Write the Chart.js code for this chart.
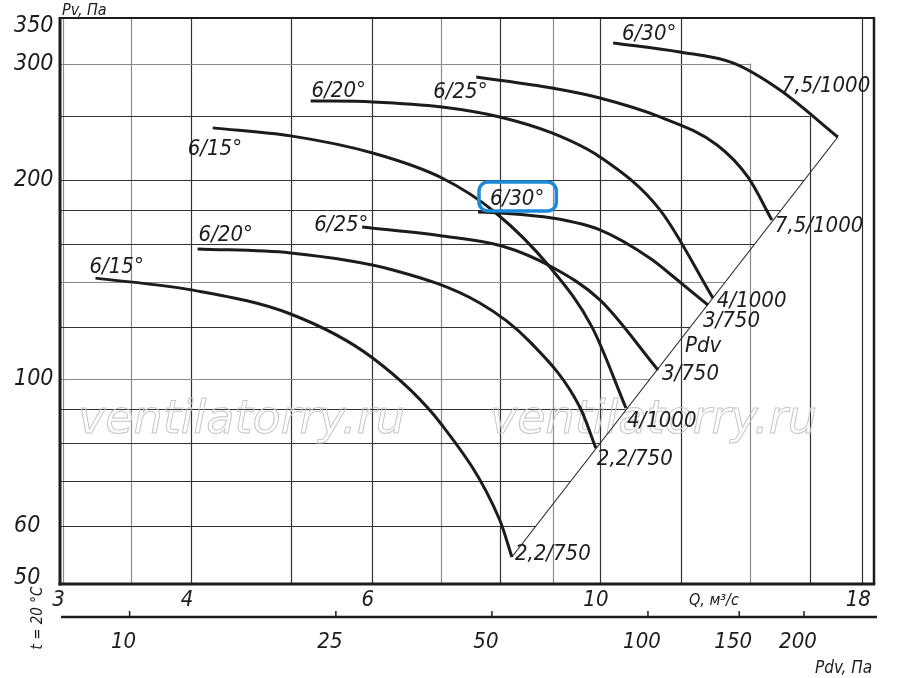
<!DOCTYPE html>
<html><head><meta charset="utf-8">
<script src="https://cdn.jsdelivr.net/npm/chart.js@4.4.1/dist/chart.umd.min.js"></script>
<style>html,body{margin:0;padding:0;background:#fff;overflow:hidden}canvas{display:block}</style>
</head><body>
<canvas id="c" width="900" height="678"></canvas>
<script>
// ---------------- data ----------------
const qGrid = [3, 3.5, 4, 5, 6, 7, 8, 9, 10, 12, 14, 16, 18];
const qTickLabels = [3, 4, 6, 10, 18];
const pGrid = [60, 70, 80, 90, 100, 120, 140, 160, 180, 200, 250, 300];
const pTickLabels = [350, 300, 200, 100, 60, 50];
const pdvTickValues = [10, 25, 50, 100, 150, 200];

const bladeAngles = ["6/15°", "6/20°", "6/25°", "6/30°", "6/15°", "6/20°", "6/25°", "6/30°"];
const motorLabels = ["2,2/750", "2,2/750", "3/750", "3/750", "4/1000", "4/1000", "7,5/1000", "7,5/1000"];

const q1 = [3.23, 4.00, 5.00, 6.01, 7.02, 7.99, 8.21];
const p1 = [142.1, 136.4, 125.4, 107.6, 85.2, 61.2, 53.8];
const q2 = [4.06, 5.00, 6.29, 7.64, 8.55, 9.56, 9.91];
const p2 = [157.3, 155.1, 146.2, 130.3, 113.8, 90.7, 78.6];
const q3 = [5.87, 7.02, 8.03, 8.98, 10.0, 11.39];
const p3 = [169.8, 164.6, 158.9, 147.7, 131.7, 103.2];
const q4 = [7.61, 8.01, 8.98, 10.0, 11.18, 11.96, 12.74];
const p4 = [178.9, 178.3, 175.2, 168.1, 152.4, 140.2, 129.4];
const q5 = [4.20, 5.00, 6.01, 7.02, 7.90, 8.94, 9.82, 10.60];
const p5 = [239.8, 233.2, 219.7, 201.4, 178.9, 147.7, 120.0, 90.4];
const q6 = [5.23, 6.01, 7.02, 7.99, 8.98, 10.0, 11.44, 12.88];
const p6 = [263.4, 262.5, 257.9, 249.1, 235.6, 216.7, 180.2, 132.6];
const q7 = [7.58, 8.98, 10.0, 11.44, 13.00, 13.93, 14.70];
const p7 = [286.3, 275.5, 266.1, 249.1, 225.9, 202.1, 174.0];
const q8 = [10.30, 11.96, 13.47, 14.97, 17.04];
const p8 = [322.4, 312.4, 300.7, 273.6, 232.3];

const pdvLineQ = [8.21, 17.04];
const pdvLineP = [53.8, 232.3];
const pdvLabelAt = [12.1, 110];

// ---------------- styles / layout ----------------
const X_MIN = 2.983, X_MAX = 18.48, Y_MIN = 48.97, Y_MAX = 351.6, PDV_MIN = 7.34, PDV_MAX = 272.95;
const gridStopQ = {300: 14, 250: 16};
const gridStartP = {14: 300, 16: 250};
const grayQ = [3, 3.5, 7, 9, 14];
const grayP = [100, 140, 300];
const startOff = [[-6,-5],[1,-8],[-48,4],[12,-7],[-25,27],[1,-4],[-43,21],[9,-3]];
const endOff = [[3,3],[1,17],[4,10],[-5,22],[1,19],[4,9],[3,12],[-56,-45]];
const FAM = "'DejaVu Sans Condensed', 'DejaVu Sans', sans-serif";
const F_BIG = "italic 22px " + FAM;
const F_Y = "italic 23px " + FAM;
const INK = '#1c1c1c';

const curves = [[q1,p1],[q2,p2],[q3,p3],[q4,p4],[q5,p5],[q6,p6],[q7,p7],[q8,p8]];
const datasets = curves.map(([qs, ps], i) => ({
  label: bladeAngles[i] + ' ' + motorLabels[i],
  data: qs.map((q, j) => ({x: q, y: ps[j]})),
  showLine: true, borderColor: INK, borderWidth: 3, pointRadius: 0,
  cubicInterpolationMode: 'monotone', fill: false
}));
datasets.push({
  label: 'Pdv', data: pdvLineQ.map((q, j) => ({x: q, y: pdvLineP[j]})),
  showLine: true, borderColor: '#222', borderWidth: 1.1, pointRadius: 0, fill: false
});

const drawPlugin = {
  id: 'fanDrawing',
  beforeDatasetsDraw(chart) {
    const {ctx, chartArea: a, scales: {x, y}} = chart;
    const d0 = {x: x.getPixelForValue(pdvLineQ[0]), y: y.getPixelForValue(pdvLineP[0])};
    const d1 = {x: x.getPixelForValue(pdvLineQ[1]), y: y.getPixelForValue(pdvLineP[1])};
    const diagX = yy => d0.x + (yy - d0.y) * (d1.x - d0.x) / (d1.y - d0.y);
    ctx.save();
    ctx.lineWidth = 1.2;
    qGrid.forEach(q => {
      const xx = Math.round(x.getPixelForValue(q)) + 0.5;
      const top = gridStartP[q] ? y.getPixelForValue(gridStartP[q]) : a.top;
      ctx.strokeStyle = grayQ.includes(q) ? '#8a8a8a' : '#333';
      ctx.beginPath(); ctx.moveTo(xx, top); ctx.lineTo(xx, a.bottom); ctx.stroke();
    });
    pGrid.forEach(p => {
      const yy = Math.round(y.getPixelForValue(p)) + 0.5;
      let xe = Math.min(a.right, diagX(yy));
      if (gridStopQ[p]) xe = x.getPixelForValue(gridStopQ[p]);
      ctx.strokeStyle = grayP.includes(p) ? '#8a8a8a' : '#333';
      ctx.beginPath(); ctx.moveTo(a.left, yy); ctx.lineTo(xe, yy); ctx.stroke();
    });
    // watermark
    ctx.font = "italic 46px 'DejaVu Sans', sans-serif";
    ctx.strokeStyle = '#c6c6c6'; ctx.lineWidth = 1;
    ctx.strokeText('ventilatorry.ru', 78, 433);
    ctx.strokeText('ventilatorry.ru', 490, 433);
    ctx.restore();
  },
  afterDatasetsDraw(chart) {
    const {ctx, chartArea: a, scales: {x, y, pdv}} = chart;
    ctx.save();
    // frame
    ctx.strokeStyle = INK;
    ctx.lineWidth = 2; ctx.beginPath(); ctx.moveTo(a.left, a.top); ctx.lineTo(a.right, a.top); ctx.stroke();
    ctx.lineWidth = 2.5; ctx.beginPath(); ctx.moveTo(a.right, a.top - 1); ctx.lineTo(a.right, a.bottom); ctx.stroke();
    ctx.lineWidth = 3; ctx.beginPath(); ctx.moveTo(a.left, a.top - 1); ctx.lineTo(a.left, a.bottom + 1.5); ctx.stroke();
    ctx.beginPath(); ctx.moveTo(a.left - 1.5, a.bottom); ctx.lineTo(a.right + 1.25, a.bottom); ctx.stroke();

    ctx.fillStyle = INK;
    ctx.textBaseline = 'alphabetic';
    // y tick labels
    ctx.font = F_Y; ctx.textAlign = 'left';
    pTickLabels.forEach(v => {
      const base = Math.max(y.getPixelForValue(v) + 6, a.top + 14);
      ctx.fillText(String(v), 14, base);
    });
    // x tick labels
    ctx.font = F_BIG; ctx.textAlign = 'center';
    qTickLabels.forEach(v => ctx.fillText(String(v), x.getPixelForValue(v) - 4, a.bottom + 22));
    // Pdv axis
    const ay = a.bottom + 33;
    ctx.lineWidth = 2.5; ctx.beginPath(); ctx.moveTo(a.left + 1, ay); ctx.lineTo(a.right + 3, ay); ctx.stroke();
    ctx.lineWidth = 1.5;
    pdvTickValues.forEach(v => {
      const px = pdv.getPixelForValue(v);
      ctx.beginPath(); ctx.moveTo(px, ay - 6); ctx.lineTo(px, ay); ctx.stroke();
      ctx.fillText(String(v), px - 6, ay + 31);
    });
    // axis titles
    ctx.textAlign = 'left';
    ctx.font = "italic 16px " + FAM; ctx.fillText('Pv, Па', a.left + 2, a.top - 3);
    ctx.font = "italic 16px " + FAM; ctx.fillText('Q, м³/с', 689, a.bottom + 21);
    ctx.font = "italic 17px " + FAM; ctx.fillText('Pdv, Па', a.right - 59, a.bottom + 89);
    ctx.save(); ctx.translate(42, a.bottom + 34); ctx.rotate(-Math.PI / 2);
    ctx.font = "italic 15px " + FAM; ctx.textAlign = 'center'; ctx.fillText('t = 20 °C', 0, 0);
    ctx.restore();

    // curve labels
    ctx.font = F_BIG; ctx.textAlign = 'left';
    curves.forEach(([qs, ps], i) => {
      const sx = x.getPixelForValue(qs[0]), sy = y.getPixelForValue(ps[0]);
      const ex = x.getPixelForValue(qs[qs.length - 1]), ey = y.getPixelForValue(ps[ps.length - 1]);
      const lx = sx + startOff[i][0], ly = sy + startOff[i][1];
      ctx.fillText(bladeAngles[i], lx, ly);
      ctx.fillText(motorLabels[i], ex + endOff[i][0], ey + endOff[i][1]);
      if (i === 3) {
        const w = ctx.measureText(bladeAngles[i]).width;
        ctx.save();
        ctx.strokeStyle = '#1a8ad6'; ctx.lineWidth = 3.5;
        ctx.beginPath();
        ctx.roundRect(lx - 11, ly - 23, w + 23, 29, 9);
        ctx.stroke();
        ctx.restore();
      }
    });
    ctx.fillText('Pdv', x.getPixelForValue(pdvLabelAt[0]), y.getPixelForValue(pdvLabelAt[1]));
    ctx.restore();
  }
};

const setTicks = arr => s => { s.ticks = arr.map(v => ({value: v})); };

new Chart(document.getElementById('c'), {
  type: 'scatter',
  data: {datasets},
  options: {
    responsive: false, animation: false, devicePixelRatio: 1,
    layout: {padding: {left: 60, right: 26, top: 18, bottom: 94}},
    plugins: {legend: {display: false}, tooltip: {enabled: false}},
    scales: {
      x: {type: 'logarithmic', min: X_MIN, max: X_MAX, display: false, afterBuildTicks: setTicks(qGrid)},
      y: {type: 'logarithmic', min: Y_MIN, max: Y_MAX, display: false, afterBuildTicks: setTicks(pGrid)},
      pdv: {type: 'logarithmic', axis: 'x', position: 'bottom', min: PDV_MIN, max: PDV_MAX, display: false,
            afterBuildTicks: setTicks(pdvTickValues)}
    }
  },
  plugins: [drawPlugin]
});
</script>
</body></html>
